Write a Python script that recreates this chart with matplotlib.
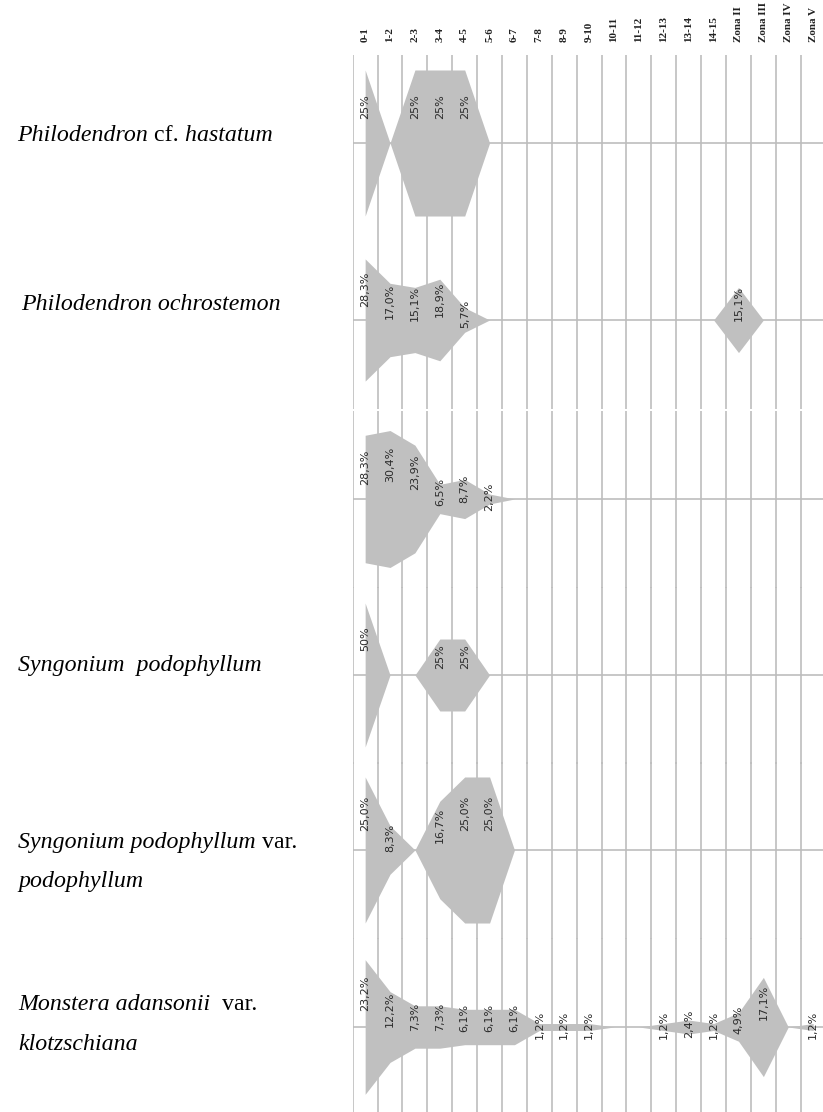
import matplotlib
matplotlib.use("Agg")
import matplotlib.pyplot as plt

W, H = 823, 1112
DPI = 100

categories = ["0-1", "1-2", "2-3", "3-4", "4-5", "5-6", "6-7", "7-8", "8-9", "9-10",
              "10-11", "11-12", "12-13", "13-14", "14-15",
              "Zona II", "Zona III", "Zona IV", "Zona V"]

# percentage of individuals per class (one list per species row)
phil_hastatum = [25, 0, 25, 25, 25, 0, 0, 0, 0, 0, 0, 0, 0, 0, 0, 0, 0, 0, 0]
phil_ochrostemon = [28.3, 17.0, 15.1, 18.9, 5.7, 0, 0, 0, 0, 0, 0, 0, 0, 0, 0, 15.1, 0, 0, 0]
row3_species = [28.3, 30.4, 23.9, 6.5, 8.7, 2.2, 0, 0, 0, 0, 0, 0, 0, 0, 0, 0, 0, 0, 0]
syng_podophyllum = [50, 0, 0, 25, 25, 0, 0, 0, 0, 0, 0, 0, 0, 0, 0, 0, 0, 0, 0]
syng_podo_var = [25.0, 8.3, 0, 16.7, 25.0, 25.0, 0, 0, 0, 0, 0, 0, 0, 0, 0, 0, 0, 0, 0]
monstera = [23.2, 12.2, 7.3, 7.3, 6.1, 6.1, 6.1, 1.2, 1.2, 1.2, 0, 0, 1.2, 2.4, 1.2, 4.9, 17.1, 0, 1.2]

rows = [phil_hastatum, phil_ochrostemon, row3_species, syng_podophyllum, syng_podo_var, monstera]
row_decimals = [0, 1, 1, 0, 1, 1]

# layout / style (pixels)
baselines = [143, 320, 499, 675, 850, 1027]
row_half_px = 88.5
row_half_val = [30.3, 41.0, 39.3, 61.5, 30.3, 30.5]
left_px = 352.7
col_px = 24.89

fill_c = "#c0c0c0"
grid_c = "#bdbdbd"

fig = plt.figure(figsize=(W / DPI, H / DPI), dpi=DPI)
fig.patch.set_facecolor("white")

n = len(categories)
xc = [k + 0.5 for k in range(n)]
axes = []
for i, vals in enumerate(rows):
    b = baselines[i]
    bottom = 1 - (b + row_half_px) / H
    ax = fig.add_axes([left_px / W, bottom, n * col_px / W, 2 * row_half_px / H])
    ax.set_facecolor("none")
    ax.set_xlim(0, n)
    ax.set_ylim(-row_half_val[i], row_half_val[i])
    for k in range(n + 1):
        ax.axvline(k, color=grid_c, lw=1.2, zorder=1)
    ax.axhline(0, color=grid_c, lw=1.2, zorder=1)
    # trim trailing zeros so the kite ends at the first empty class
    last = max(k for k, v in enumerate(vals) if v > 0)
    end = min(last + 1, n - 1)
    xs = xc[:end + 1]
    vs = vals[:end + 1]
    ax.fill_between(xs, [-v for v in vs], vs, color=fill_c, lw=0, zorder=2)
    fmt = "{:.%df}%%" % row_decimals[i]
    for k, v in enumerate(vals):
        if v > 0:
            s = fmt.format(v).replace(".", ",")
            ax.text(xc[k], v / 2, s, rotation=90, ha="center", va="center",
                    fontsize=8, color="#2a2a2a", family="DejaVu Sans", zorder=3)
    for sp in ax.spines.values():
        sp.set_visible(False)
    ax.set_xticks([])
    ax.set_yticks([])
    axes.append(ax)

# column headers
for k, c in enumerate(categories):
    x_px = left_px + (k + 0.5) * col_px
    fig.text(x_px / W, 1 - 41.5 / H, c, rotation=90, ha="center", va="bottom",
             fontsize=8, family="Liberation Serif", weight="bold", color="#222222")

# species names (mixed italic / upright)
renderer = fig.canvas.get_renderer()


def mixed(x_px, y_px, parts, size=17.2):
    x = x_px
    for txt, style in parts:
        t = fig.text(x / W, 1 - y_px / H, txt, fontsize=size, family="Liberation Serif",
                     style=style, ha="left", va="baseline", color="black")
        bb = t.get_window_extent(renderer)
        x += bb.width


mixed(17, 141, [("Philodendron", "italic"), (" cf.", "normal"), (" hastatum", "italic")])
mixed(21, 310, [("Philodendron ochrostemon", "italic")])
mixed(18, 671, [("Syngonium  podophyllum", "italic")])
mixed(18, 848, [("Syngonium podophyllum", "italic"), (" var.", "normal")])
mixed(18, 887, [("podophyllum", "italic")])
mixed(18, 1010, [("Monstera adansonii", "italic"), ("  var.", "normal")])
mixed(18, 1050, [("klotzschiana", "italic")])

fig.savefig("out.png", dpi=DPI, facecolor="white")
